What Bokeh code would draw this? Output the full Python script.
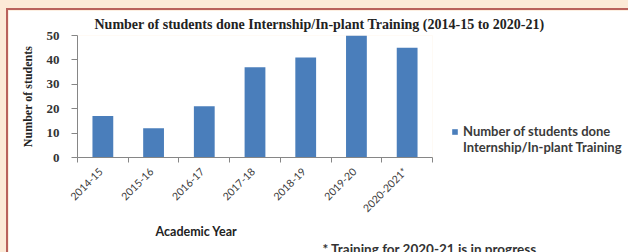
import math
from bokeh.plotting import figure
from bokeh.models import FixedTicker, Legend, LegendItem, Range1d, Title
from bokeh.embed import file_html
from bokeh.resources import INLINE

years = ["2014-15", "2015-16", "2016-17", "2017-18", "2018-19", "2019-20", "2020-2021*"]
students = [17, 12, 21, 37, 41, 50, 45]
y_ticks = [0, 10, 20, 30, 40, 50]
title_text = "Number of students done Internship/In-plant Training (2014-15 to 2020-21)"
legend_line1 = "Number of students done"
legend_line2 = "Internship/In-plant Training"
x_title = "Academic Year"
y_title = "Number of students"
footnote = "* Training  for 2020-21 is in progress"

centers = [i + 0.5 for i in range(len(years))]
bounds = list(range(len(years) + 1))
label_pos = [c - 0.04 for c in centers]

p = figure(width=620, height=242, output_backend="svg", toolbar_location=None,
           x_range=Range1d(0, len(years)), y_range=Range1d(0, 50),
           min_border_left=69, min_border_right=196, min_border_top=25, min_border_bottom=95,
           frame_width=355, frame_height=122)
p.background_fill_color = "white"
p.border_fill_color = "white"
p.outline_line_color = None
p.grid.visible = False
p.styles = {"box-shadow": "-2px -2px 0 0 #b9625c"}

r = p.vbar(x=centers, top=students, width=0.41, fill_color="#4a7ebb", line_color=None)

# title
p.add_layout(Title(text=title_text, align="left", offset=17, standoff=8,
                   text_font="Liberation Serif", text_font_style="bold",
                   text_font_size="14px", text_color="#222222"), "above")

# x axis
xa = p.xaxis[0]
xa.ticker = FixedTicker(ticks=label_pos, minor_ticks=bounds)
xa.major_label_overrides = {c: y for c, y in zip(label_pos, years)}
xa.major_tick_line_color = None
xa.minor_tick_line_color = "#868686"
xa.minor_tick_out = 5
xa.minor_tick_in = 0
xa.axis_line_color = "#868686"
xa.major_label_orientation = math.pi / 4
xa.major_label_text_font = "Lato"
xa.major_label_text_font_size = "10.5px"
xa.major_label_text_color = "#3a3a3a"
xa.major_label_standoff = 6

# y axis
ya = p.yaxis[0]
ya.ticker = FixedTicker(ticks=y_ticks)
ya.minor_tick_line_color = None
ya.major_tick_line_color = "#868686"
ya.major_tick_out = 6
ya.major_tick_in = 0
ya.axis_line_color = "#868686"
ya.major_label_text_font = "Liberation Serif"
ya.major_label_text_font_style = "bold"
ya.major_label_text_font_size = "13px"
ya.major_label_text_color = "#333333"
ya.major_label_standoff = 12
ya.axis_label = y_title
ya.axis_label_text_font = "Liberation Serif"
ya.axis_label_text_font_style = "bold"
ya.axis_label_text_font_size = "12px"
ya.axis_label_text_color = "#222222"
ya.axis_label_standoff = 9

# x-axis title and footnote below the axis
p.add_layout(Title(text=x_title, align="left", offset=78, standoff=0,
                   text_font="Lato", text_font_style="bold",
                   text_font_size="12.5px", text_color="#222222"), "below")
p.add_layout(Title(text=footnote, align="left", offset=245, standoff=0,
                   text_font="Lato", text_font_style="bold",
                   text_font_size="13.5px", text_color="#333333"), "below")

legend = Legend(items=[LegendItem(label=legend_line1, renderers=[r]),
                       LegendItem(label=legend_line2, renderers=[])],
                location=(19, 2), padding=0, margin=0, spacing=0,
                glyph_width=7, glyph_height=7, label_standoff=5,
                border_line_color=None, background_fill_alpha=0,
                label_text_font="Lato", label_text_font_style="bold",
                label_text_font_size="13px", label_text_color="#3a3a3a")
p.add_layout(legend, "right")

html = file_html(p, INLINE)
css = ("<style>html, body { background: #fcead7 !important; margin: 0 !important; }"
       " body { padding: 10px 0 0 8px !important; box-sizing: border-box; }</style>")
html = html.replace("</head>", css + "</head>", 1)
open("out.html", "w").write(html)
